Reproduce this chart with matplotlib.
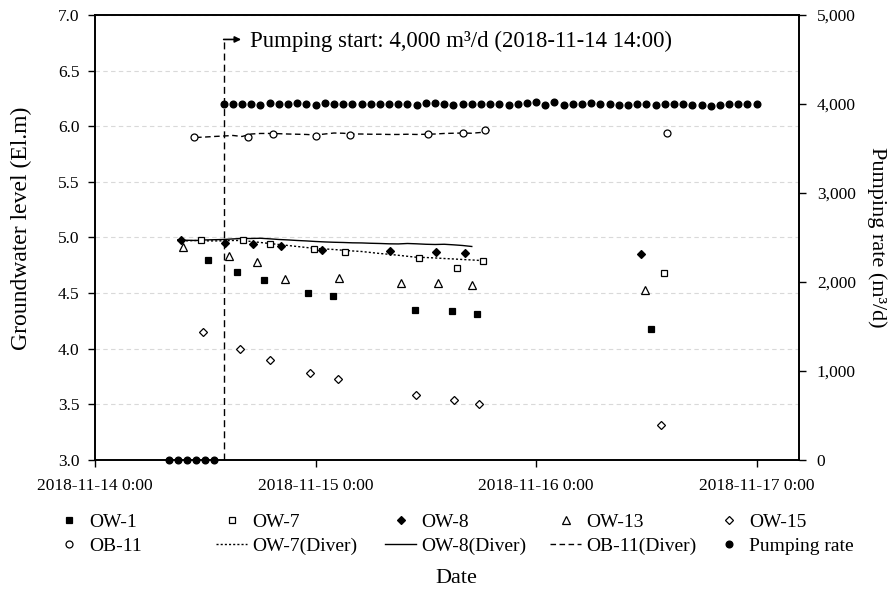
import numpy as np
import pandas as pd
import matplotlib
matplotlib.use("Agg")
import matplotlib.pyplot as plt
import matplotlib.dates as mdates
from matplotlib.ticker import FuncFormatter, MultipleLocator

plt.rcParams['font.family'] = ['Liberation Serif', 'DejaVu Serif']

# manual measurements (El.m)
ow1_t = ["2018-11-14 12:15", "2018-11-14 15:28", "2018-11-14 18:23", "2018-11-14 23:10", "2018-11-15 01:55",
         "2018-11-15 10:50", "2018-11-15 14:51", "2018-11-15 17:37", "2018-11-16 12:30"]
ow1_h = [4.80, 4.69, 4.62, 4.50, 4.47, 4.35, 4.34, 4.31, 4.18]

ow7_t = ["2018-11-14 11:30", "2018-11-14 16:08", "2018-11-14 19:02", "2018-11-14 23:49", "2018-11-15 03:11",
         "2018-11-15 11:16", "2018-11-15 15:24", "2018-11-15 18:10", "2018-11-16 13:57"]
ow7_h = [4.98, 4.98, 4.94, 4.90, 4.87, 4.82, 4.73, 4.79, 4.68]

ow8_t = ["2018-11-14 09:19", "2018-11-14 14:10", "2018-11-14 17:13", "2018-11-14 20:14", "2018-11-15 00:39",
         "2018-11-15 08:05", "2018-11-15 13:09", "2018-11-15 16:14", "2018-11-16 11:23"]
ow8_h = [4.98, 4.95, 4.94, 4.92, 4.89, 4.88, 4.87, 4.86, 4.85]

ow13_t = ["2018-11-14 09:32", "2018-11-14 14:34", "2018-11-14 17:35", "2018-11-14 20:42", "2018-11-15 02:36",
          "2018-11-15 09:17", "2018-11-15 13:20", "2018-11-15 17:02", "2018-11-16 11:53"]
ow13_h = [4.91, 4.83, 4.78, 4.63, 4.64, 4.59, 4.59, 4.57, 4.53]

ow15_t = ["2018-11-14 11:47", "2018-11-14 15:48", "2018-11-14 19:00", "2018-11-14 23:23", "2018-11-15 02:25",
          "2018-11-15 10:58", "2018-11-15 15:04", "2018-11-15 17:50", "2018-11-16 13:38"]
ow15_h = [4.15, 4.00, 3.90, 3.78, 3.73, 3.58, 3.54, 3.50, 3.31]

ob11_t = ["2018-11-14 10:46", "2018-11-14 16:36", "2018-11-14 19:23", "2018-11-15 00:05", "2018-11-15 03:43",
          "2018-11-15 12:15", "2018-11-15 16:03", "2018-11-15 18:25", "2018-11-16 14:12"]
ob11_h = [5.90, 5.90, 5.93, 5.91, 5.92, 5.93, 5.94, 5.97, 5.94]

# diver loggers, hourly
ow7d_start = "2018-11-14 09:00"
ow7d_h = [4.973, 4.970, 4.973, 4.970, 4.969, 4.970, 4.973, 4.973, 4.964, 4.955, 4.946, 4.937,
          4.928, 4.919, 4.910, 4.901, 4.897, 4.892, 4.885, 4.879, 4.874, 4.865, 4.856, 4.849,
          4.840, 4.831, 4.822, 4.820, 4.816, 4.811, 4.807, 4.802, 4.798, 4.793]

ow8d_start = "2018-11-14 09:00"
ow8d_h = [4.978, 4.975, 4.973, 4.978, 4.980, 4.982, 4.987, 4.991, 4.991, 4.993, 4.988, 4.982,
          4.978, 4.973, 4.969, 4.964, 4.960, 4.957, 4.955, 4.952, 4.951, 4.948, 4.946, 4.943,
          4.942, 4.946, 4.943, 4.939, 4.937, 4.939, 4.934, 4.928, 4.919]

ob11d_start = "2018-11-14 11:00"
ob11d_h = [5.899, 5.903, 5.908, 5.912, 5.917, 5.908, 5.930, 5.935, 5.935, 5.933, 5.930, 5.928,
           5.926, 5.921, 5.930, 5.939, 5.937, 5.930, 5.930, 5.928, 5.928, 5.926, 5.926, 5.928,
           5.926, 5.928, 5.930, 5.935, 5.937, 5.939, 5.937, 5.944, 5.966]

# pumping rate (m3/d), hourly from 08:00
pump_start = "2018-11-14 08:00"
pump_q = [0, 0, 0, 0, 0, 0,
          3996, 4004, 4000, 4000, 3989, 4011, 4000, 4000, 4007, 3996, 3985, 4007, 4000, 4004,
          4004, 4000, 3996, 4000, 3996,
          4002, 4002, 3985, 4013, 4013, 4002, 3993, 4002, 4002, 4002, 4002, 4002, 3989, 3999,
          4010, 4020, 3985, 4020, 3993, 3999, 3999, 4006, 4002, 3996,
          3994, 3994, 4000, 4000, 3988, 4000, 4000, 4000, 3994, 3994, 3982, 3988, 4000, 4000,
          4000, 4000]

xticks = ["2018-11-14", "2018-11-15", "2018-11-16", "2018-11-17"]
start_time = pd.Timestamp("2018-11-14 14:00")

fig = plt.figure(figsize=(8.92, 5.92), dpi=100)
ax = fig.add_axes([0.1065, 0.223, 0.789, 0.7517])
ax2 = ax.twinx()

t = lambda s: pd.to_datetime(s)

# diver lines
l7d, = ax.plot(pd.date_range(ow7d_start, periods=len(ow7d_h), freq="h"), ow7d_h,
               color="black", lw=1.0, ls=(0, (1.5, 1.5)))
l8d, = ax.plot(pd.date_range(ow8d_start, periods=len(ow8d_h), freq="h"), ow8d_h,
               color="black", lw=1.0, ls="-")
l11d, = ax.plot(pd.date_range(ob11d_start, periods=len(ob11d_h), freq="h"), ob11d_h,
                color="black", lw=1.0, ls=(0, (4, 2.5)))

# manual points
kw = dict(ls="none", color="black", markeredgewidth=0.9)
p1, = ax.plot(t(ow1_t), ow1_h, marker="s", ms=5, **kw)
p7, = ax.plot(t(ow7_t), ow7_h, marker="s", ms=5, mfc="white", **kw)
p8, = ax.plot(t(ow8_t), ow8_h, marker="D", ms=4.2, **kw)
p13, = ax.plot(t(ow13_t), ow13_h, marker="^", ms=5.5, mfc="white", **kw)
p15, = ax.plot(t(ow15_t), ow15_h, marker="D", ms=4.2, mfc="white", **kw)
p11, = ax.plot(t(ob11_t), ob11_h, marker="o", ms=5, mfc="white", **kw)

pq, = ax2.plot(pd.date_range(pump_start, periods=len(pump_q), freq="h"), pump_q,
               ls="none", marker="o", ms=4.8, color="black", clip_on=False)

# pumping start marker
ax.plot([start_time, start_time], [3.0, 6.78], color="black", lw=1.0, ls=(0, (5, 3)))
ax.annotate("", xy=(start_time + pd.Timedelta(hours=1.9), 6.78), xytext=(start_time, 6.78),
            arrowprops=dict(arrowstyle="-|>", lw=1.2, color="black", mutation_scale=9,
                            shrinkA=0, shrinkB=0))
ax.text(pd.Timestamp("2018-11-14 16:50"), 6.76, "Pumping start: 4,000 m³/d (2018-11-14 14:00)",
        fontsize=16.4, va="center", ha="left")

# axes
ax.set_xlim(pd.Timestamp("2018-11-14 00:00"), pd.Timestamp("2018-11-17 04:35"))
ax.set_ylim(3.0, 7.0)
ax2.set_ylim(0, 5000)
ax.set_xticks(pd.to_datetime(xticks))
ax.xaxis.set_major_formatter(FuncFormatter(
    lambda v, p: "{:%Y-%m-%d} {}:{:%M}".format(mdates.num2date(v), mdates.num2date(v).hour, mdates.num2date(v))))
ax.yaxis.set_major_locator(MultipleLocator(0.5))
ax.yaxis.set_major_formatter(FuncFormatter(lambda v, p: "%.1f" % v))
ax2.yaxis.set_major_locator(MultipleLocator(1000))
ax2.yaxis.set_major_formatter(FuncFormatter(lambda v, p: "{:,}".format(int(v))))

ax.yaxis.grid(True, color="#d9d9d9", ls=(0, (4, 3)), lw=0.8)
ax.set_axisbelow(True)

for a in (ax, ax2):
    for s in a.spines.values():
        s.set_linewidth(1.2)
    a.tick_params(direction="out", length=5, width=1.0, labelsize=12.5, colors="black")
ax.tick_params(axis="x", pad=8)
ax.tick_params(axis="y", pad=6)
ax2.tick_params(axis="y", pad=8)

ax.set_ylabel("Groundwater level (El.m)", fontsize=17)
ax.yaxis.set_label_coords(-0.09, 0.52)
ax2.set_ylabel("Pumping rate (m³/d)", fontsize=16, rotation=-90, va="center")
ax2.yaxis.set_label_coords(1.111, 0.5)
fig.text(0.5115, 0.022, "Date", fontsize=16, ha="center", va="center")

# legend: five columns of two rows
columns = [
    ([p1, p11], ["OW-1", "OB-11"]),
    ([p7, l7d], ["OW-7", "OW-7(Diver)"]),
    ([p8, l8d], ["OW-8", "OW-8(Diver)"]),
    ([p13, l11d], ["OW-13", "OB-11(Diver)"]),
    ([p15, pq], ["OW-15", "Pumping rate"]),
]
col_x = [53, 216, 385, 550, 713]
for (hs, labs), x in zip(columns, col_x):
    fig.legend(hs, labs, loc="center left", bbox_to_anchor=(x / 892, 1 - 534 / 592),
               frameon=False, fontsize=14, handlelength=1.6, handletextpad=0.25,
               labelspacing=0.3, borderpad=0, borderaxespad=0, numpoints=1)

fig.savefig("out.png", dpi=100)
